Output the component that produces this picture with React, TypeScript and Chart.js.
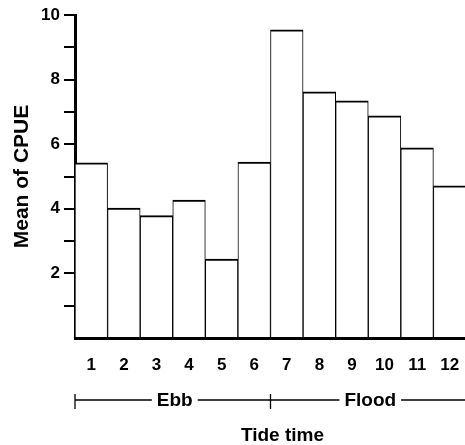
import React, { useEffect, useRef } from 'react';
import { Chart, registerables } from 'chart.js';

Chart.register(...registerables);

const categories = ['1', '2', '3', '4', '5', '6', '7', '8', '9', '10', '11', '12'];
const cpueMeans = [5.42, 4.02, 3.79, 4.27, 2.44, 5.45, 9.54, 7.62, 7.34, 6.88, 5.89, 4.71];
const labeledYTicks = [2, 4, 6, 8, 10];
const phaseLabels = ['Ebb', 'Flood'];
const phaseStartIndex = [0, 6];
const yAxisTitle = 'Mean of CPUE';
const xAxisTitle = 'Tide time';

const FONT = "'Liberation Sans', Arial, sans-serif";
const CANVAS_W = 470;
const CANVAS_H = 460;

const phasePlugin = {
  id: 'phaseBracket',
  afterDraw(chart: any) {
    const x = chart.scales.x;
    const ctx = chart.ctx;
    const n = categories.length;
    const edge = (i: number) => {
      if (i <= 0) return x.left;
      if (i >= n) return x.right;
      return (x.getPixelForValue(i - 1) + x.getPixelForValue(i)) / 2;
    };
    const y = x.top + 62;
    ctx.save();
    ctx.strokeStyle = '#000';
    ctx.fillStyle = '#000';
    ctx.lineWidth = 1.3;
    ctx.font = `bold 19px ${FONT}`;
    ctx.textAlign = 'center';
    ctx.textBaseline = 'middle';
    phaseLabels.forEach((label, k) => {
      const x0 = edge(phaseStartIndex[k]);
      const x1 = k + 1 < phaseStartIndex.length ? edge(phaseStartIndex[k + 1]) : x.right;
      const cx = (x0 + x1) / 2 + 2;
      const tw = ctx.measureText(label).width;
      const gap = 5;
      ctx.beginPath();
      ctx.moveTo(x0, y);
      ctx.lineTo(cx - tw / 2 - gap, y);
      ctx.moveTo(cx + tw / 2 + gap, y);
      ctx.lineTo(x1, y);
      ctx.moveTo(x0, y - 6);
      ctx.lineTo(x0, y + 9);
      ctx.stroke();
      ctx.fillText(label, cx, y + 1);
    });
    // axis title, centred a little right of the plot centre as in the original
    ctx.font = `bold 19px ${FONT}`;
    ctx.fillText(xAxisTitle, (x.left + x.right) / 2 + 12, x.top + 98);
    ctx.restore();
  },
};

export default function App() {
  const ref = useRef<HTMLCanvasElement | null>(null);

  useEffect(() => {
    if (!ref.current) return;
    const chart = new Chart(ref.current, {
      type: 'bar',
      data: {
        labels: categories,
        datasets: [
          {
            data: cpueMeans,
            backgroundColor: '#ffffff',
            borderColor: '#000000',
            borderWidth: { top: 2, left: 1, right: 1, bottom: 0 },
            borderSkipped: 'start',
            categoryPercentage: 1,
            barPercentage: 1,
          },
        ],
      },
      options: {
        responsive: false,
        animation: false,
        devicePixelRatio: 1,
        layout: { padding: { top: 15, left: 0, right: 4, bottom: 0 } },
        plugins: { legend: { display: false }, tooltip: { enabled: false } },
        scales: {
          x: {
            grid: { display: false },
            border: { display: true, color: '#000', width: 3 },
            ticks: {
              color: '#000',
              font: { family: FONT, size: 17, weight: 'bold' },
              padding: 9,
              maxRotation: 0,
              autoSkip: false,
            },
            title: { display: false, text: xAxisTitle },
            afterFit: (s: any) => {
              s.height = CANVAS_H - 338;
            },
          },
          y: {
            min: 0,
            max: 10,
            grid: {
              display: true,
              drawOnChartArea: false,
              drawTicks: true,
              tickLength: 11,
              lineWidth: 2,
              color: (c: any) => (c.tick && c.tick.value === 0 ? 'rgba(0,0,0,0)' : '#000'),
            },
            border: { display: true, color: '#000', width: 3 },
            ticks: {
              stepSize: 1,
              autoSkip: false,
              color: '#000',
              padding: 4,
              font: { family: FONT, size: 17, weight: 'bold' },
              callback: (v: any) => (labeledYTicks.includes(Number(v)) ? String(v) : ''),
            },
            title: {
              display: true,
              text: yAxisTitle,
              color: '#000',
              font: { family: FONT, size: 21, weight: 'bold' },
              padding: { top: 10, bottom: 0 },
            },
            afterFit: (s: any) => {
              s.width = 75;
            },
          },
        },
      },
      plugins: [phasePlugin],
    });
    return () => chart.destroy();
  }, []);

  return (
    <div
      style={{
        position: 'fixed',
        left: 0,
        top: 0,
        width: 465,
        height: 445,
        overflow: 'hidden',
        background: '#fff',
      }}
    >
      <canvas ref={ref} width={CANVAS_W} height={CANVAS_H} style={{ display: 'block' }} />
    </div>
  );
}
